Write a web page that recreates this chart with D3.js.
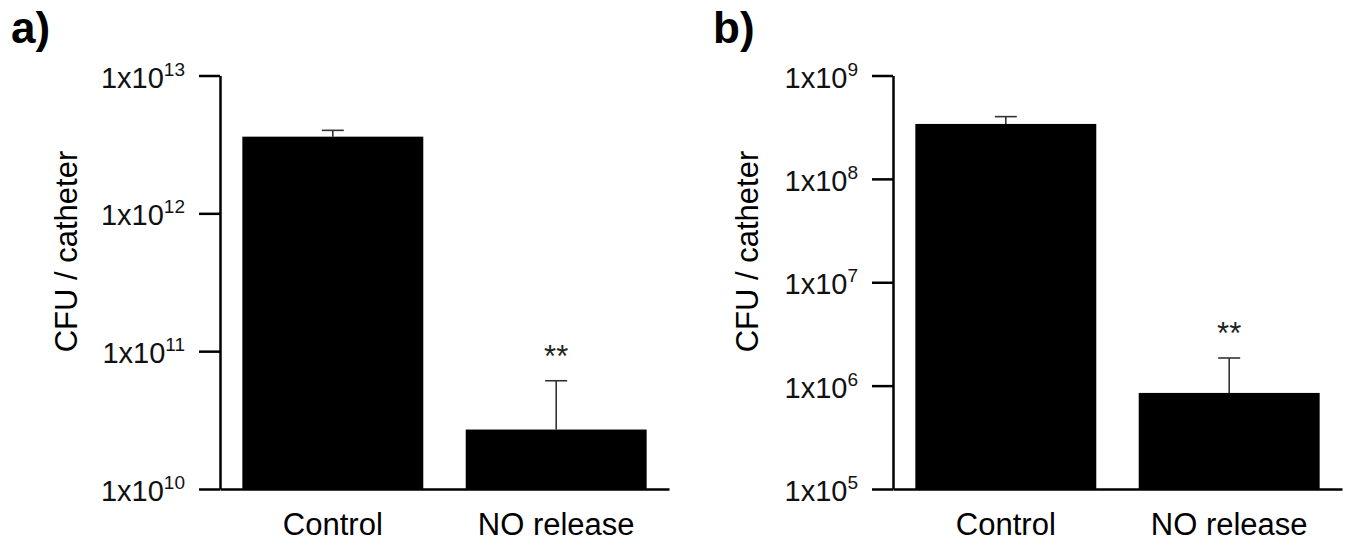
<!DOCTYPE html>
<html lang="en">
<head>
<meta charset="UTF-8">
<title>CFU per catheter</title>
<script src="https://d3js.org/d3.v7.min.js"></script>
<style>
    body { margin: 0; background: #fff; }
    svg { font-family: "Liberation Sans", Arial, sans-serif; display: block; }
    .axis path, .axis line { stroke: #000; stroke-width: 2.5; }
    .err { stroke: #333; stroke-width: 1.6; }
</style>
</head>
<body>
<div id="chart"></div>
<script>
    // data
    var categories = ["Control", "NO release"];
    var meansA = [3.6e12, 2.7e10];
    var errTopA = [4.0e12, 6.1e10];
    var expsA = [10, 11, 12, 13];
    var meansB = [3.4e8, 8.5e5];
    var errTopB = [4.0e8, 1.85e6];
    var expsB = [5, 6, 7, 8, 9];
    var marks = ["", "**"];
    var panelLetters = ["a)", "b)"];
    var yTitle = "CFU / catheter";

    var width = 1360, height = 551;
    var plotTop = 75.5, plotBottom = 489, plotWidth = 449;

    var svg = d3.select("#chart").append("svg")
        .attr("width", width)
        .attr("height", height);

    function drawPanel(left, letter, letterX, titleGap, means, errs, exps) {
        var g = svg.append("g");

        var y = d3.scaleLog()
            .domain([Math.pow(10, exps[0]), Math.pow(10, exps[exps.length - 1])])
            .range([plotBottom, plotTop]);

        var x = d3.scaleBand()
            .domain(categories)
            .range([left, left + plotWidth])
            .paddingInner(0.19)
            .paddingOuter(0.1);

        // bars
        g.selectAll(".bar")
            .data(categories)
            .enter().append("rect")
            .attr("class", "bar")
            .attr("x", function (d) { return x(d); })
            .attr("width", x.bandwidth())
            .attr("y", function (d, i) { return y(means[i]); })
            .attr("height", function (d, i) { return plotBottom - y(means[i]); })
            .attr("fill", "#000");

        // upper error bars
        categories.forEach(function (d, i) {
            var cx = x(d) + x.bandwidth() / 2;
            g.append("line").attr("class", "err")
                .attr("x1", cx).attr("x2", cx)
                .attr("y1", y(means[i])).attr("y2", y(errs[i]));
            g.append("line").attr("class", "err")
                .attr("x1", cx - 11).attr("x2", cx + 11)
                .attr("y1", y(errs[i])).attr("y2", y(errs[i]));
            if (marks[i]) {
                g.append("text")
                    .attr("x", cx)
                    .attr("y", y(errs[i]) - 14)
                    .attr("text-anchor", "middle")
                    .attr("fill", "#222")
                    .style("font-size", "31px")
                    .text(marks[i]);
            }
        });

        // y axis
        var yAxis = g.append("g")
            .attr("class", "axis")
            .attr("transform", "translate(" + left + ",0)")
            .call(d3.axisLeft(y)
                .tickValues(exps.map(function (e) { return Math.pow(10, e); }))
                .tickSize(21)
                .tickSizeOuter(0)
                .tickPadding(14)
                .tickFormat(""));

        yAxis.selectAll(".tick text")
            .attr("dy", "0.4em")
            .attr("fill", "#111")
            .style("font-size", "29px")
            .each(function (d, i) {
                var t = d3.select(this);
                t.append("tspan").text("1x10");
                t.append("tspan")
                    .attr("dy", -12)
                    .style("font-size", "19px")
                    .text(exps[i]);
            });

        // x axis
        g.append("g")
            .attr("class", "axis")
            .attr("transform", "translate(0," + plotBottom + ")")
            .call(d3.axisBottom(x).tickSize(0).tickSizeOuter(0).tickPadding(24))
            .selectAll("text")
            .attr("fill", "#000")
            .style("font-size", "31px");

        // axis title
        g.append("text")
            .attr("transform", "translate(" + (left - titleGap) + "," + 251.5 + ") rotate(-90)")
            .attr("text-anchor", "middle")
            .style("font-size", "31px")
            .text(yTitle);

        // panel letter
        g.append("text")
            .attr("x", letterX)
            .attr("y", 43)
            .style("font-size", "44px")
            .style("font-weight", "bold")
            .text(letter);
    }

    drawPanel(220, panelLetters[0], 11, 143, meansA, errTopA, expsA);
    drawPanel(893, panelLetters[1], 713, 135, meansB, errTopB, expsB);
</script>
</body>
</html>
